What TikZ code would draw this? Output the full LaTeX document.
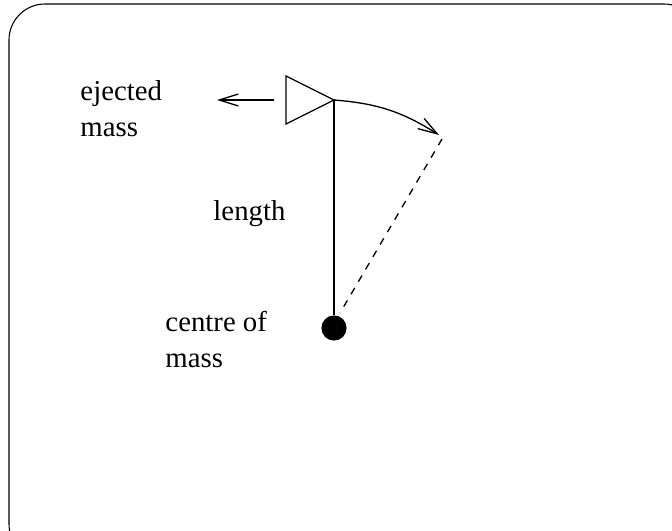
\documentclass[tikz,border=0pt]{standalone}
\usepackage{fontspec}
\setmainfont{Liberation Serif}
\usetikzlibrary{arrows.meta, positioning, calc}

\begin{document}
\begin{tikzpicture}[
                x=0.417pt, y=-0.417pt,
                line/.style={line width=0.55pt},
                label/.style={font=\fontsize{12}{15}\selectfont, align=left, inner sep=0pt},
                arrow/.style={line width=0.55pt, -{Straight Barb[length=8pt, width=5pt]}}
            ]
                \useasboundingbox (0,0) rectangle (672,530);
                % Frame
                \begin{scope}
                \clip (0,0) rectangle (672,530);
                \draw [line width=0.45pt, rounded corners=15] (9,4) rectangle (700,560);
                \end{scope}

                % Nozzle and pendulum
                \coordinate (tip) at (334,100);
                \coordinate (push) at (274,100);
                \coordinate (away) at (217,100);
                \coordinate (swing) at (439,135);
                \node (com) [circle, fill=black, minimum size=10.5pt, inner sep=0pt] at (334,328) {};
                \draw [line] (286,76) -- (tip) -- (286,124) -- cycle;
                \draw [line] (tip) -- (com);
                \draw [arrow] (push) -- (away);
                \draw [arrow] (tip) to[bend left=14] (swing);
                \draw [line, dashed] ($(swing)+(3,4)$) -- ($(com)+(6,-15)$);

                % Labels
                \node (ejected) [label, anchor=north west] at (80,80) {ejected\\mass};
                \node (length) [label, anchor=base west] at (213,220) {length};
                \node (centre) [label, anchor=north west] at (165,311) {centre of\\mass};
            \end{tikzpicture}
\end{document}
